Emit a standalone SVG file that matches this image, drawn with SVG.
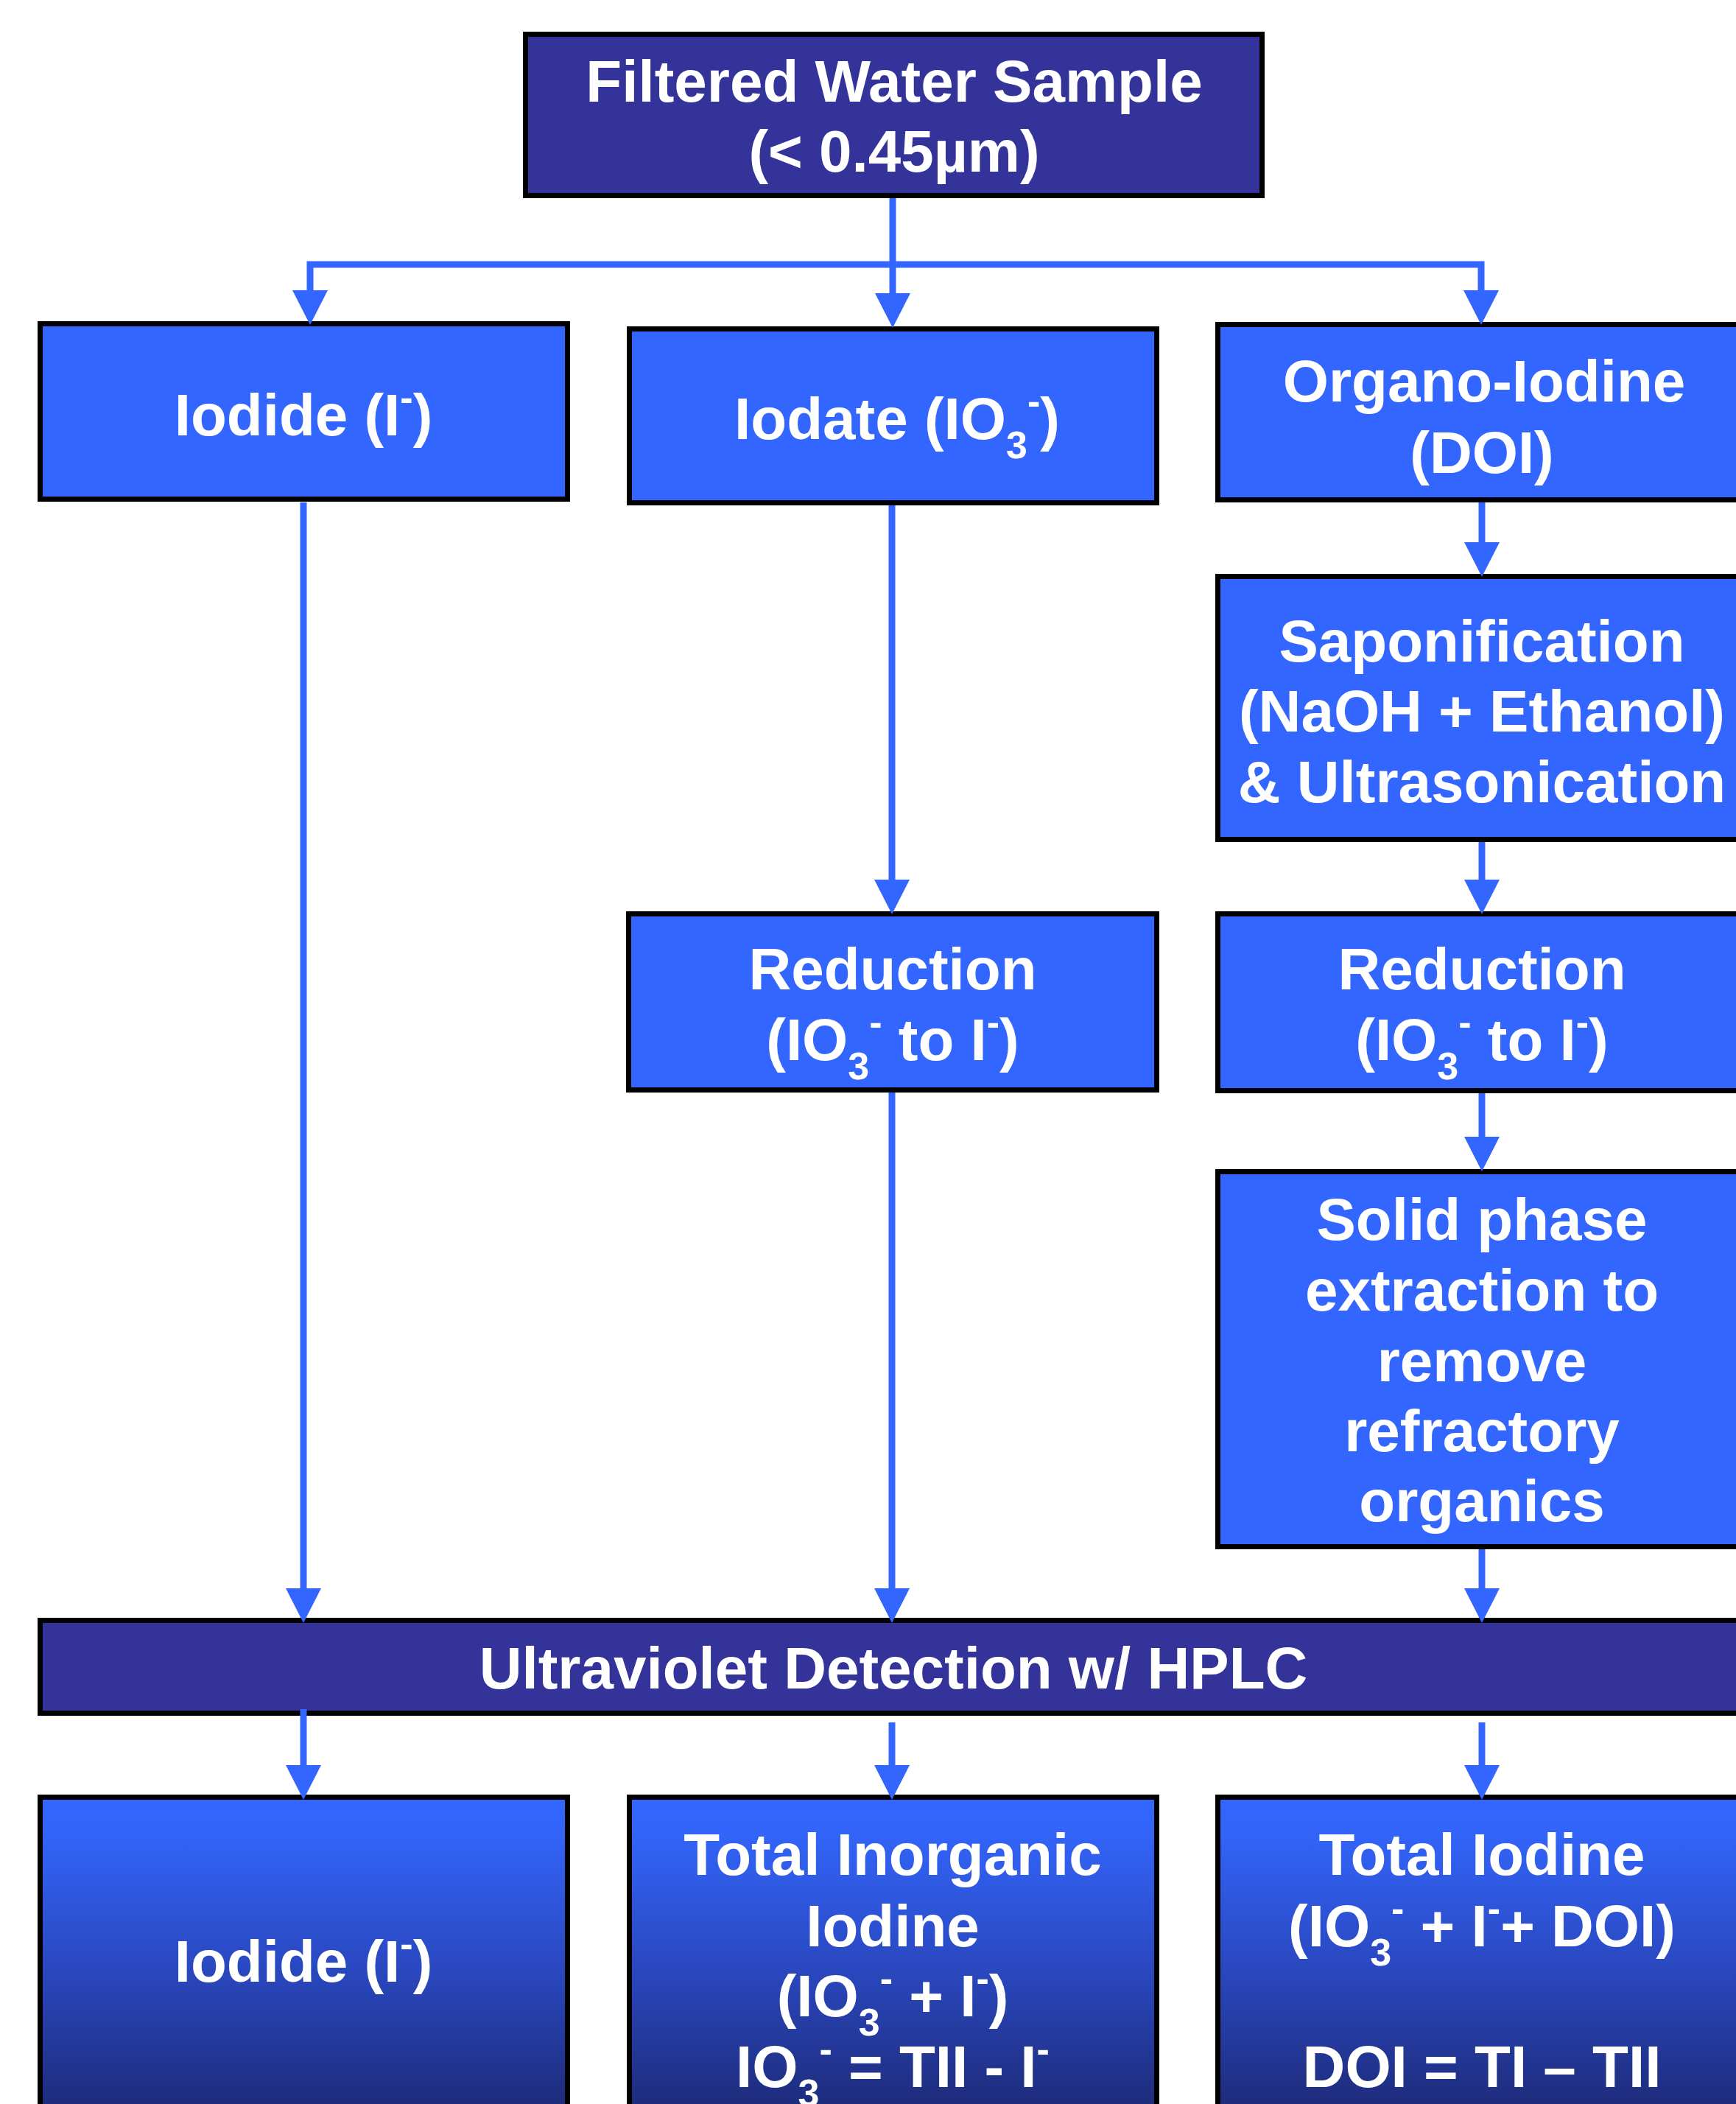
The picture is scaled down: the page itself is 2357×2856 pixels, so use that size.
<svg xmlns="http://www.w3.org/2000/svg" width="2357" height="2856" viewBox="0 0 2357 2856">
<style>
.box{fill:#3366FF;stroke:#000;stroke-width:7}
.dark{fill:#333399;stroke:#000;stroke-width:7}
.grad{fill:url(#g);stroke:#000;stroke-width:7}
.t{font-family:"Liberation Sans",Arial,sans-serif;font-weight:bold;font-size:80px;fill:#fff;text-anchor:middle}
.s{font-size:52px}
.ln{fill:none;stroke:#3366FF;stroke-width:9;stroke-linejoin:miter}
.ah{fill:#3366FF}
</style>
<defs>
<linearGradient id="g" gradientUnits="userSpaceOnUse" x1="0" y1="2440" x2="0" y2="2856">
<stop offset="0" stop-color="#3366FF"/>
<stop offset="0.12" stop-color="#3264F8"/>
<stop offset="0.55" stop-color="#2A48C0"/>
<stop offset="1" stop-color="#1E2C7C"/>
</linearGradient>
<path id="ah" d="M-24,-47 L24,-47 L0,0 Z"/>
</defs>
<rect width="2357" height="2856" fill="#fff"/>

<g id="filtered">
<rect class="dark" x="713.5" y="46.5" width="1000" height="219"/>
<text class="t" x="1214" y="138">Filtered Water Sample</text>
<text class="t" x="1214" y="233">(&lt; 0.45µm)</text>
</g>

<g id="iodide">
<rect class="box" x="54.5" y="439.5" width="716" height="238"/>
<text class="t" x="412" y="591">Iodide (I<tspan class="s" dy="-34">-</tspan><tspan dy="34">)</tspan></text>
</g>

<g id="iodate">
<rect class="box" x="854.5" y="446.5" width="716" height="236"/>
<text class="t" x="1218" y="596">Iodate (IO<tspan class="s" dy="26">3</tspan><tspan class="s" dy="-60">-</tspan><tspan dy="34">)</tspan></text>
</g>

<g id="organo">
<rect class="box" x="1653.5" y="440.5" width="716" height="238"/>
<text class="t" x="2015" y="545">Organo-Iodine</text>
<text class="t" x="2012" y="642">(DOI)</text>
</g>

<g id="saponification">
<rect class="box" x="1653.5" y="782.5" width="716" height="357"/>
<text class="t" x="2012" y="898">Saponification</text>
<text class="t" x="2012" y="993">(NaOH + Ethanol)</text>
<text class="t" x="2012" y="1089">&amp; Ultrasonication</text>
</g>

<g id="reduction1">
<rect class="box" x="853.5" y="1240.5" width="717" height="239"/>
<text class="t" x="1212" y="1343">Reduction</text>
<text class="t" x="1212" y="1439">(IO<tspan class="s" dy="26">3</tspan><tspan class="s" dy="-60">-</tspan><tspan dy="34"> to I</tspan><tspan class="s" dy="-34">-</tspan><tspan dy="34">)</tspan></text>
</g>

<g id="reduction2">
<rect class="box" x="1653.5" y="1240.5" width="716" height="240"/>
<text class="t" x="2012" y="1343">Reduction</text>
<text class="t" x="2012" y="1439">(IO<tspan class="s" dy="26">3</tspan><tspan class="s" dy="-60">-</tspan><tspan dy="34"> to I</tspan><tspan class="s" dy="-34">-</tspan><tspan dy="34">)</tspan></text>
</g>

<g id="spe">
<rect class="box" x="1653.5" y="1590.5" width="716" height="509"/>
<text class="t" x="2012" y="1683">Solid phase</text>
<text class="t" x="2012" y="1779">extraction to</text>
<text class="t" x="2012" y="1875">remove</text>
<text class="t" x="2012" y="1970">refractory</text>
<text class="t" x="2012" y="2065">organics</text>
</g>

<g id="uv">
<rect class="dark" x="54.5" y="2199.5" width="2315" height="126"/>
<text class="t" x="1213" y="2292">Ultraviolet Detection w/ HPLC</text>
</g>

<g id="out-iodide">
<rect class="grad" x="54.5" y="2439.5" width="716" height="460"/>
<text class="t" x="412" y="2690">Iodide (I<tspan class="s" dy="-34">-</tspan><tspan dy="34">)</tspan></text>
</g>

<g id="out-tii">
<rect class="grad" x="854.5" y="2439.5" width="716" height="460"/>
<text class="t" x="1212" y="2545">Total Inorganic</text>
<text class="t" x="1212" y="2642">Iodine</text>
<text class="t" x="1212" y="2737">(IO<tspan class="s" dy="26">3</tspan><tspan class="s" dy="-60">-</tspan><tspan dy="34"> + I</tspan><tspan class="s" dy="-34">-</tspan><tspan dy="34">)</tspan></text>
<text class="t" x="1212" y="2833">IO<tspan class="s" dy="26">3</tspan><tspan class="s" dy="-60">-</tspan><tspan dy="34"> = TII - I</tspan><tspan class="s" dy="-34">-</tspan></text>
</g>

<g id="out-ti">
<rect class="grad" x="1653.5" y="2439.5" width="716" height="460"/>
<text class="t" x="2012" y="2545">Total Iodine</text>
<text class="t" x="2012" y="2642">(IO<tspan class="s" dy="26">3</tspan><tspan class="s" dy="-60">-</tspan><tspan dy="34"> + I</tspan><tspan class="s" dy="-34">-</tspan><tspan dy="34">+ DOI)</tspan></text>
<text class="t" x="2012" y="2833">DOI = TI – TII</text>
</g>

<g id="connectors">
<path class="ln" d="M1212,269 V400"/>
<path class="ln" d="M421,400 V359 H2011 V400"/>
<use class="ah" href="#ah" x="1212" y="445"/>
<use class="ah" href="#ah" x="421" y="441"/>
<use class="ah" href="#ah" x="2011" y="441"/>

<path class="ln" d="M412,682 V2160"/>
<use class="ah" href="#ah" x="412" y="2203"/>

<path class="ln" d="M1211,686 V1195"/>
<use class="ah" href="#ah" x="1211" y="1241"/>
<path class="ln" d="M1211,1483 V2160"/>
<use class="ah" href="#ah" x="1211" y="2203"/>

<path class="ln" d="M2012,682 V738"/>
<use class="ah" href="#ah" x="2012" y="783"/>
<path class="ln" d="M2012,1143 V1195"/>
<use class="ah" href="#ah" x="2012" y="1241"/>
<path class="ln" d="M2012,1484 V1545"/>
<use class="ah" href="#ah" x="2012" y="1590"/>
<path class="ln" d="M2012,2103 V2160"/>
<use class="ah" href="#ah" x="2012" y="2203"/>

<path class="ln" d="M412,2320 V2400"/>
<use class="ah" href="#ah" x="412" y="2443"/>
<path class="ln" d="M1211,2338 V2400"/>
<use class="ah" href="#ah" x="1211" y="2443"/>
<path class="ln" d="M2012,2338 V2400"/>
<use class="ah" href="#ah" x="2012" y="2443"/>
</g>
</svg>
